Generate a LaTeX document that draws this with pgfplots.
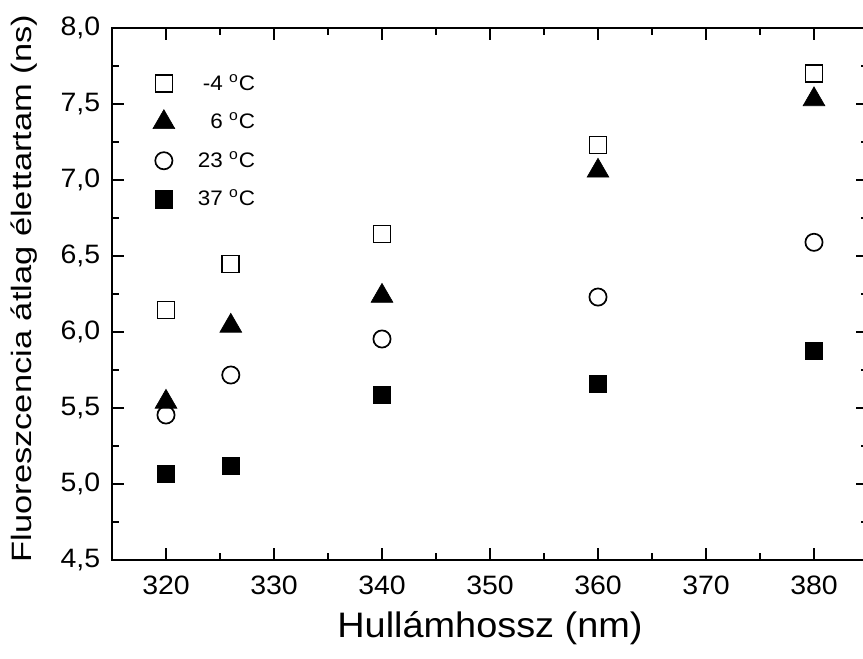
\documentclass[border=0pt]{standalone}
\usepackage{fontspec}
\setmainfont{Liberation Sans}[FakeStretch=1.07]
\usepackage{pgfplots}
\pgfplotsset{compat=1.18}
\begin{document}
\begin{tikzpicture}
\useasboundingbox (-56pt,-49.5pt) rectangle (375.5pt,280pt);
\begin{axis}[
  at={(0,0)}, anchor=south west,
  scale only axis, width=378pt, height=266pt,
  xmin=315, xmax=385, ymin=4.5, ymax=8.0,
  xtick={320,330,340,350,360,370,380},
  minor xtick={315,325,335,345,355,365,375,385},
  ytick={4.5,5.0,5.5,6.0,6.5,7.0,7.5,8.0},
  minor ytick={4.75,5.25,5.75,6.25,6.75,7.25,7.75},
  tick align=inside, major tick length=6pt, minor tick length=3.5pt,
  axis line style={line width=1pt},
  every tick/.style={line width=1pt, black},
  tick label style={font=\fontsize{13.3}{15}\selectfont},
  /pgf/number format/assume math mode=true,
  yticklabel style={/pgf/number format/use comma, /pgf/number format/fixed,
    /pgf/number format/fixed zerofill, /pgf/number format/precision=1, xshift=-2.4pt},
  xticklabel style={yshift=-4.6pt},
  xlabel={Hullámhossz (nm)},
  ylabel={Fluoreszcencia átlag élettartam (ns)},
  xlabel style={font=\fontsize{17.7}{20}\selectfont, at={(axis description cs:0.5,-0.1286)}, anchor=center},
  ylabel style={font=\fontsize{14}{16}\selectfont, at={(axis description cs:-0.1159,0.5103)}, anchor=center, xscale=1.15},
  legend style={draw=none, fill=none, at={(axis cs:318.2,7.75)}, anchor=north west,
    font=\fontsize{10.5}{12}\selectfont, row sep=5.8pt,
    /tikz/every odd column/.append style={column sep=9.5pt}},
  legend cell align=right,
]
\addplot[only marks, mark=square, mark size=4.25pt, mark options={line width=0.85pt, fill=white, draw=black}]
  coordinates {(320,6.145)(326,6.447)(340,6.645)(360,7.23)(380,7.70)};
\addlegendentry{-4 \textsuperscript{o}C}
\addplot[only marks, mark=triangle*, mark size=6.3pt, mark options={line width=0.3pt, fill=black, draw=black}]
  coordinates {(320,5.54)(326,6.04)(340,6.237)(360,7.06)(380,7.53)};
\addlegendentry{6 \textsuperscript{o}C}
\addplot[only marks, mark=o, mark size=4.3pt, mark options={line width=0.85pt, fill=white, draw=black}]
  coordinates {(320,5.454)(326,5.717)(340,5.954)(360,6.23)(380,6.59)};
\addlegendentry{23 \textsuperscript{o}C}
\addplot[only marks, mark=square*, mark size=4.4pt, mark options={line width=0.3pt, fill=black, draw=black}]
  coordinates {(320,5.066)(326,5.12)(340,5.586)(360,5.66)(380,5.875)};
\addlegendentry{37 \textsuperscript{o}C}
\end{axis}
\end{tikzpicture}
\end{document}
